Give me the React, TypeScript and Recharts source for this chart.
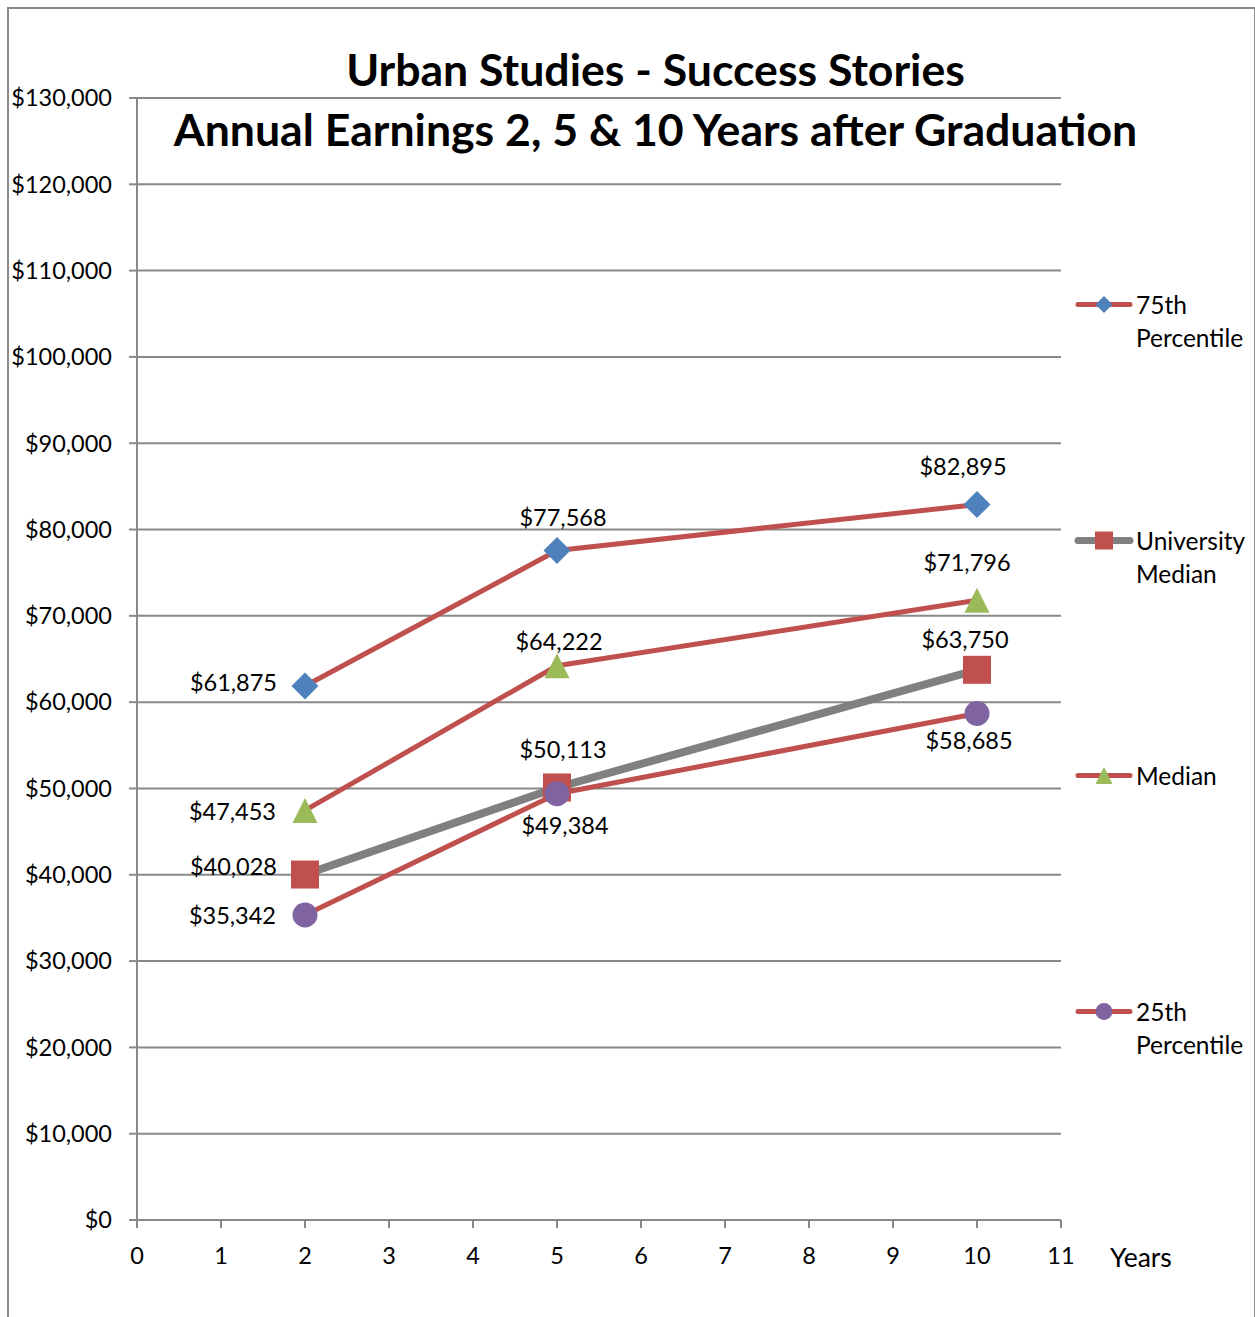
import React from 'react';
import { LineChart, Line, XAxis, YAxis, CartesianGrid, LabelList } from 'recharts';

// ---- data ----
const years = [2, 5, 10];
const pct75 = [61875, 77568, 82895];
const univMedian = [40028, 50113, 63750];
const median = [47453, 64222, 71796];
const pct25 = [35342, 49384, 58685];
const seriesNames = ['75th Percentile', 'University Median', 'Median', '25th Percentile'];
const yTicks = [0, 10000, 20000, 30000, 40000, 50000, 60000, 70000, 80000, 90000, 100000, 110000, 120000, 130000];
const xTicks = [0, 1, 2, 3, 4, 5, 6, 7, 8, 9, 10, 11];
const titleLines = ['Urban Studies - Success Stories', 'Annual Earnings 2, 5 & 10 Years after Graduation'];
const xAxisTitle = 'Years';

const data = years.map((y, i) => ({
  year: y,
  p75: pct75[i],
  univ: univMedian[i],
  med: median[i],
  p25: pct25[i],
}));

// ---- styles ----
const FONT = 'Lato, "Open Sans", sans-serif';
const GRID = '#898989';
const RED = '#C0504D';

type Shape = 'diamond' | 'square' | 'triangle' | 'circle';
type LabelPos = { anchor: 'end' | 'middle'; dx: number; dy: number };

const seriesStyle: {
  key: string;
  stroke: string;
  width: number;
  shape: Shape;
  fill: string;
  size: number;
  legendSize: number;
  legendY: number;
  labels: LabelPos[];
}[] = [
  {
    key: 'p75', stroke: RED, width: 5, shape: 'diamond', fill: '#4F81BD', size: 27, legendSize: 17, legendY: 304,
    labels: [{ anchor: 'end', dx: -28, dy: -4 }, { anchor: 'middle', dx: 6, dy: -34 }, { anchor: 'middle', dx: -14, dy: -39 }],
  },
  {
    key: 'univ', stroke: '#808080', width: 8, shape: 'square', fill: RED, size: 28, legendSize: 18, legendY: 540,
    labels: [{ anchor: 'end', dx: -28, dy: -9 }, { anchor: 'middle', dx: 6, dy: -38 }, { anchor: 'middle', dx: -12, dy: -31 }],
  },
  {
    key: 'med', stroke: RED, width: 5, shape: 'triangle', fill: '#9BBB59', size: 25, legendSize: 17, legendY: 775,
    labels: [{ anchor: 'end', dx: -29, dy: 1 }, { anchor: 'middle', dx: 2, dy: -25 }, { anchor: 'middle', dx: -10, dy: -38 }],
  },
  {
    key: 'p25', stroke: RED, width: 5, shape: 'circle', fill: '#8064A2', size: 25, legendSize: 17, legendY: 1011,
    labels: [{ anchor: 'end', dx: -29, dy: 0 }, { anchor: 'middle', dx: 8, dy: 31 }, { anchor: 'middle', dx: -8, dy: 26 }],
  },
];

const fmtMoney = (v: number) => '$' + v.toLocaleString('en-US');

function Marker({ shape, cx, cy, size, fill }: { shape: Shape; cx: number; cy: number; size: number; fill: string }) {
  const h = size / 2;
  if (shape === 'diamond') {
    return <polygon points={`${cx},${cy - h} ${cx + h},${cy} ${cx},${cy + h} ${cx - h},${cy}`} fill={fill} />;
  }
  if (shape === 'square') {
    return <rect x={cx - h} y={cy - h} width={size} height={size} fill={fill} />;
  }
  if (shape === 'triangle') {
    return <polygon points={`${cx},${cy - h} ${cx + h},${cy + h} ${cx - h},${cy + h}`} fill={fill} />;
  }
  return <circle cx={cx} cy={cy} r={h} fill={fill} />;
}

const makeLabel = (labels: LabelPos[]) => (p: any) => {
  const pos = labels[p.index] || labels[0];
  return (
    <text
      key={`lbl-${p.index}`}
      x={p.x + pos.dx}
      y={p.y + pos.dy}
      textAnchor={pos.anchor}
      dominantBaseline="central"
      fontFamily={FONT}
      fontSize={23.5}
      fill="#000"
    >
      {fmtMoney(p.value)}
    </text>
  );
};

export default function App() {
  return (
    <div style={{ position: 'absolute', left: 0, top: 0, width: 1255, height: 1317, overflow: 'hidden', background: '#fff', fontFamily: FONT }}>
      {/* frame */}
      <div
        style={{
          position: 'absolute', left: 7, top: 7, width: 1245, height: 1320,
          borderLeft: '2px solid #8a8a8a', borderTop: '2px solid #8a8a8a', borderRight: '2px solid #8a8a8a',
        }}
      />
      <div style={{ position: 'absolute', left: 0, top: 0 }}>
        <LineChart width={1255} height={1317} data={data} margin={{ top: 98, right: 194, bottom: 0, left: 0 }}>
          <CartesianGrid vertical={false} stroke={GRID} strokeWidth={2} />
          <XAxis
            dataKey="year"
            type="number"
            domain={[0, 11]}
            ticks={xTicks}
            interval={0}
            height={97}
            tickSize={8}
            tickMargin={19}
            stroke={GRID}
            strokeWidth={2}
            tick={{ fill: '#000', fontSize: 23.5, fontFamily: FONT }}
            label={{
              content: (p: any) => {
                const vb = p.viewBox || {};
                return (
                  <text x={vb.x + vb.width + 49} y={1257} dominantBaseline="central" fontFamily={FONT} fontSize={26.5} fill="#000">
                    {xAxisTitle}
                  </text>
                );
              },
            }}
          />
          <YAxis
            type="number"
            domain={[0, 130000]}
            ticks={yTicks}
            interval={0}
            width={137}
            tickSize={8}
            tickMargin={17}
            stroke={GRID}
            strokeWidth={2}
            tickFormatter={fmtMoney}
            tick={{ fill: '#000', fontSize: 23.5, fontFamily: FONT }}
          />
          {seriesStyle.map((s, i) => (
            <Line
              key={s.key}
              dataKey={s.key}
              name={seriesNames[i]}
              stroke={s.stroke}
              strokeWidth={s.width}
              strokeLinejoin="round"
              type="linear"
              isAnimationActive={false}
              dot={(p: any) => (
                <Marker key={`${s.key}-${p.index}`} shape={s.shape} cx={p.cx} cy={p.cy} size={s.size} fill={s.fill} />
              )}
              activeDot={false}
            >
              <LabelList dataKey={s.key} content={makeLabel(s.labels)} />
            </Line>
          ))}
        </LineChart>
      </div>

      {/* title */}
      <div
        style={{
          position: 'absolute', left: 0, width: 1311, top: 39, textAlign: 'center',
          fontWeight: 700, fontSize: 44.6, lineHeight: '60px', color: '#000',
        }}
      >
        {titleLines.map((t) => (
          <div key={t}>{t}</div>
        ))}
      </div>

      {/* legend */}
      {seriesStyle.map((s, i) => (
        <div key={s.key} style={{ position: 'absolute', left: 1072, top: s.legendY - 16.5 }}>
          <svg width={64} height={33} style={{ position: 'absolute', left: 0, top: 0 }}>
            <line x1={6} y1={16.5} x2={58} y2={16.5} stroke={s.stroke} strokeWidth={s.width === 8 ? 7 : 5} strokeLinecap="round" />
            <Marker shape={s.shape} cx={32} cy={16.5} size={s.legendSize} fill={s.fill} />
          </svg>
          <div style={{ position: 'absolute', left: 64, top: 0, width: 118, fontSize: 24.5, lineHeight: '33px', color: '#000' }}>
            {seriesNames[i]}
          </div>
        </div>
      ))}
    </div>
  );
}
